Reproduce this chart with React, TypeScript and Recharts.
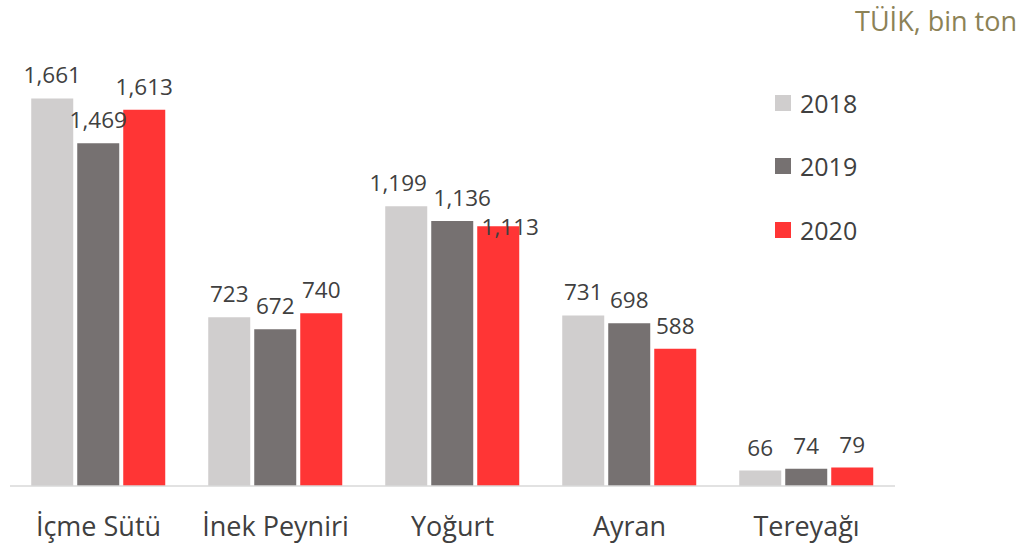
import React from "react";
import { BarChart, Bar, XAxis, YAxis, LabelList } from "recharts";

const categories = ["İçme Sütü", "İnek Peyniri", "Yoğurt", "Ayran", "Tereyağı"];
const values2018 = [1661, 723, 1199, 731, 66];
const values2019 = [1469, 672, 1136, 698, 74];
const values2020 = [1613, 740, 1113, 588, 79];
const seriesNames = ["2018", "2019", "2020"];
const seriesColors = ["#d0cece", "#767171", "#ff3535"];

const data = categories.map((c, i) => ({
  name: c,
  y2018: values2018[i],
  y2019: values2019[i],
  y2020: values2020[i],
}));

const FONT = "'Open Sans', sans-serif";
const fmt = (v: number) => v.toLocaleString("en-US");

// In the reference, the "Yoğurt" labels were nudged apart by hand.
const nudge = (seriesIdx: number, index: number): [number, number] => {
  if (index !== 2) return [0, 0];
  if (seriesIdx === 0) return [-8, 0];
  if (seriesIdx === 1) return [10, 0];
  return [12, 24];
};

const makeLabel = (seriesIdx: number) => (props: any) => {
  const { x, y, width, value, index } = props;
  const [dx, dy] = nudge(seriesIdx, index);
  const cx = Number(x) + Number(width) / 2 + dx;
  const ty = Number(y) - 15 + dy;
  return (
    <text x={cx} y={ty} textAnchor="middle" fontSize={22.5} fill="#404040" fontFamily={FONT}>
      {fmt(Number(value))}
    </text>
  );
};

export default function App() {
  const keys = ["y2018", "y2019", "y2020"];
  return (
    <div style={{ position: "absolute", left: 0, top: 0, width: 1017, height: 546, background: "#fff", fontFamily: FONT, overflow: "hidden" }}>
      <div style={{ position: "absolute", right: 0, top: 2, fontSize: 27, color: "#8c8256", whiteSpace: "nowrap" }}>
        TÜİK, bin ton
      </div>
      <div style={{ position: "absolute", left: 775, top: 71, fontSize: 25, color: "#404040" }}>
        {seriesNames.map((n, i) => (
          <div key={n} style={{ display: "flex", alignItems: "center", height: 63.5 }}>
            <div style={{ width: 16, height: 16, background: seriesColors[i], marginRight: 9 }} />
            <span>{n}</span>
          </div>
        ))}
      </div>
      <BarChart
        width={1017}
        height={546}
        data={data}
        margin={{ top: 66, right: 122, bottom: 0, left: 10 }}
        barCategoryGap="12%"
        barGap={4}
        style={{ position: "absolute", left: 0, top: 0 }}
      >
        <XAxis
          dataKey="name"
          height={60}
          tickLine={false}
          axisLine={{ stroke: "#d9d9d9", strokeWidth: 1.5 }}
          tick={{ fontSize: 27, fill: "#404040", fontFamily: FONT }}
          tickMargin={25}
          interval={0}
        />
        <YAxis hide domain={[0, 1800]} />
        {keys.map((k, i) => (
          <Bar key={k} dataKey={k} name={seriesNames[i]} fill={seriesColors[i]} isAnimationActive={false}>
            <LabelList dataKey={k} content={makeLabel(i)} />
          </Bar>
        ))}
      </BarChart>
    </div>
  );
}
